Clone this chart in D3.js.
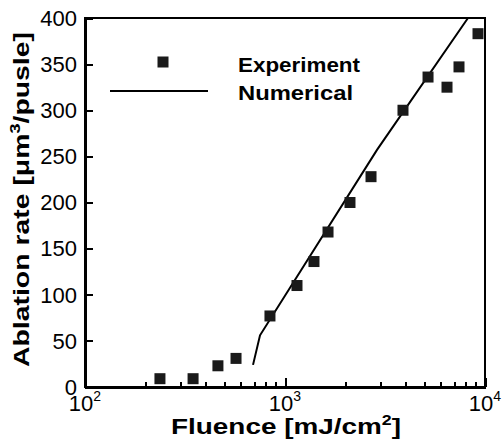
<!DOCTYPE html>
<html lang="en">
<head>
    <meta charset="UTF-8">
    <title>Ablation rate vs fluence</title>
    <script src="https://d3js.org/d3.v7.min.js"></script>
    <style>
        body { margin: 0; background: #fff; }
        svg { font-family: "Liberation Sans", Arial, sans-serif; }
        .axis path, .axis line { stroke: #000; stroke-width: 2; shape-rendering: crispEdges; }
        .axis text { font-size: 22px; fill: #000; }
        .label { font-weight: bold; font-size: 22px; fill: #000; }
        .legend { font-weight: bold; font-size: 21px; fill: #000; }
    </style>
</head>
<body>
    <svg width="502" height="443"></svg>
    <script>
        // experiment (fluence mJ/cm2, ablation rate um3/pulse)
        const expFluence = [237, 347, 462, 569, 841, 1148, 1396, 1641, 2113, 2692, 3890, 5190, 6457, 7413, 9226];
        const expRate = [9, 9, 23, 31, 77, 110, 136, 168, 200, 228, 300, 336, 325, 347, 383];

        // numerical curve
        const numFluence = [692, 750, 2884, 8222];
        const numRate = [24, 56, 257, 400];

        const yTicks = [0, 50, 100, 150, 200, 250, 300, 350, 400];
        const xTicks = [100, 1000, 10000];

        const width = 502, height = 443;
        const margin = { top: 18, right: 17, bottom: 56, left: 85 };

        const svg = d3.select("svg");

        const x = d3.scaleLog()
            .domain([100, 10000])
            .range([margin.left, width - margin.right]);

        const y = d3.scaleLinear()
            .domain([0, 400])
            .range([height - margin.bottom, margin.top]);

        // frame
        svg.append("rect")
            .attr("x", margin.left).attr("y", margin.top)
            .attr("width", x.range()[1] - margin.left)
            .attr("height", y(0) - margin.top)
            .attr("fill", "none").attr("stroke", "#000").attr("stroke-width", 2)
            .attr("shape-rendering", "crispEdges");

        // y axis, ticks pointing inward
        svg.append("g")
            .attr("class", "axis")
            .attr("transform", `translate(${margin.left},0)`)
            .call(d3.axisLeft(y).tickValues(yTicks).tickSize(-8).tickPadding(8).tickSizeOuter(0))
            .call(g => g.selectAll("text").attr("dy", "0.33em"));

        // x axis: minor ticks
        const minor = [];
        for (let d = 100; d < 10000; d *= 10) {
            for (let k = 2; k <= 9; k++) minor.push(d * k);
        }
        svg.append("g")
            .attr("class", "axis")
            .attr("transform", `translate(0,${y(0)})`)
            .call(d3.axisBottom(x).tickValues(minor).tickSize(-5).tickFormat("").tickSizeOuter(0));

        const major = svg.append("g")
            .attr("class", "axis")
            .attr("transform", `translate(0,${y(0)})`)
            .call(d3.axisBottom(x).tickValues(xTicks).tickSize(-9).tickSizeOuter(0).tickFormat(""));
        major.select(".domain").remove();

        const xl = svg.append("g").attr("class", "axis");
        xTicks.forEach(v => {
            const t = xl.append("text")
                .attr("x", x(v))
                .attr("y", y(0) + 24)
                .attr("text-anchor", "middle");
            t.append("tspan").text("10");
            t.append("tspan").attr("font-size", "14px").attr("dy", "-10").text(Math.round(Math.log10(v)));
        });

        // numerical line
        const line = d3.line()
            .x((d, i) => x(numFluence[i]))
            .y(d => y(d));
        svg.append("path")
            .datum(numRate)
            .attr("d", line)
            .attr("fill", "none")
            .attr("stroke", "#000")
            .attr("stroke-width", 2);

        // experiment squares
        const s = 11;
        svg.selectAll(".pt")
            .data(expRate)
            .enter().append("rect")
            .attr("class", "pt")
            .attr("x", (d, i) => x(expFluence[i]) - s / 2)
            .attr("y", d => y(d) - s / 2)
            .attr("width", s).attr("height", s)
            .attr("fill", "#1a1a1a");

        // legend
        svg.append("rect")
            .attr("x", 163 - s / 2).attr("y", 62 - s / 2)
            .attr("width", s).attr("height", s).attr("fill", "#1a1a1a");
        svg.append("line")
            .attr("x1", 110).attr("x2", 208).attr("y1", 91).attr("y2", 91)
            .attr("stroke", "#000").attr("stroke-width", 2);
        svg.append("text").attr("class", "legend").attr("x", 238).attr("y", 72)
            .attr("textLength", 122).attr("lengthAdjust", "spacingAndGlyphs").text("Experiment");
        svg.append("text").attr("class", "legend").attr("x", 238).attr("y", 100)
            .attr("textLength", 115).attr("lengthAdjust", "spacingAndGlyphs").text("Numerical");

        // axis titles
        const xt = svg.append("text").attr("class", "label")
            .attr("x", 171).attr("y", 434)
            .attr("textLength", 230).attr("lengthAdjust", "spacingAndGlyphs");
        xt.append("tspan").text("Fluence [mJ/cm");
        xt.append("tspan").attr("font-size", "14px").attr("dy", "-9").text("2");
        xt.append("tspan").attr("dy", "9").text("]");

        const yt = svg.append("text").attr("class", "label")
            .attr("transform", "translate(29,367) rotate(-90)")
            .attr("textLength", 335).attr("lengthAdjust", "spacingAndGlyphs");
        yt.append("tspan").text("Ablation rate [\u03bcm");
        yt.append("tspan").attr("font-size", "14px").attr("dy", "-9").text("3");
        yt.append("tspan").attr("dy", "9").text("/pusle]");
    </script>
</body>
</html>
